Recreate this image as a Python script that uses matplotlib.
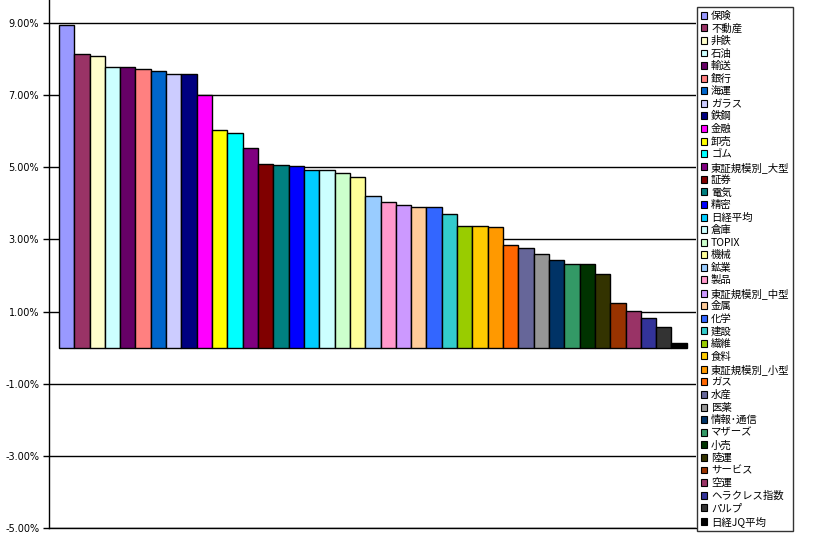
import numpy as np
import matplotlib.pyplot as plt
from matplotlib.patches import Patch

plt.rcParams['font.family'] = ['Noto Sans CJK JP', 'DejaVu Sans']

names = ['保険', '不動産', '非鉄', '石油', '輸送', '銀行', '海運', 'ガラス', '鉄鋼', '金融',
         '卸売', 'ゴム', '東証規模別_大型', '証券', '電気', '精密', '日経平均', '倉庫', 'TOPIX',
         '機械', '鉱業', '製品', '東証規模別_中型', '金属', '化学', '建設', '繊維', '食料',
         '東証規模別_小型', 'ガス', '水産', '医薬', '情報･通信', 'マザーズ', '小売', '陸運',
         'サービス', '空運', 'ヘラクレス指数', 'パルプ', '日経JQ平均']
values = [8.96, 8.14, 8.09, 7.78, 7.78, 7.73, 7.67, 7.59, 7.59, 7.00,
          6.03, 5.95, 5.53, 5.09, 5.06, 5.03, 4.92, 4.92, 4.84,
          4.73, 4.20, 4.03, 3.95, 3.91, 3.91, 3.70, 3.38, 3.38,
          3.34, 2.84, 2.76, 2.59, 2.42, 2.31, 2.31, 2.03,
          1.23, 1.01, 0.81, 0.56, 0.12]
colors = ['#9999FF', '#993366', '#FFFFCC', '#CCFFFF', '#660066', '#FF8080', '#0066CC', '#CCCCFF',
          '#000080', '#FF00FF', '#FFFF00', '#00FFFF', '#800080', '#800000', '#008080', '#0000FF',
          '#00CCFF', '#CCFFFF', '#CCFFCC', '#FFFF99', '#99CCFF', '#FF99CC', '#CC99FF', '#FFCC99',
          '#3366FF', '#33CCCC', '#99CC00', '#FFCC00', '#FF9900', '#FF6600', '#666699', '#969696',
          '#003366', '#339966', '#003300', '#333300', '#993300', '#993366', '#333399', '#333333',
          '#000000']
yticks = [-5, -3, -1, 1, 3, 5, 7, 9]

fig = plt.figure(figsize=(8.19, 5.39), dpi=100)
ax = fig.add_axes([0.0598, 0.0204, 0.7900, 0.9796])

x = np.arange(len(values))
ax.bar(x, values, width=1.0, color=colors, edgecolor='black', linewidth=1.0, zorder=3)

ax.set_xlim(-0.5 - 0.65, len(values) - 0.5 + 0.6)
ax.set_ylim(-5, 9.64)
ax.set_yticks(yticks)
ax.set_yticklabels(['%.2f%%' % v for v in yticks], fontsize=7, family='DejaVu Sans')
ax.yaxis.grid(True, color='black', linewidth=1.0)
ax.set_xticks([])
ax.tick_params(axis='y', length=4, width=1, direction='out', pad=3)
for s in ['top', 'right']:
    ax.spines[s].set_visible(False)
ax.spines['left'].set_linewidth(1.0)
ax.spines['bottom'].set_linewidth(1.0)

handles = [Patch(facecolor=c, edgecolor='black', linewidth=0.8) for c in colors]
leg = fig.legend(handles, names, loc='upper left', bbox_to_anchor=(697 / 819, 1 - 7 / 539),
                 fontsize=7.5, frameon=True, fancybox=False, borderpad=0.35,
                 handlelength=0.65, handleheight=0.65, handletextpad=0.35,
                 labelspacing=0.24, borderaxespad=0)
leg.get_frame().set_edgecolor('black')
leg.get_frame().set_linewidth(1.0)

fig.savefig('out.png', dpi=100)
